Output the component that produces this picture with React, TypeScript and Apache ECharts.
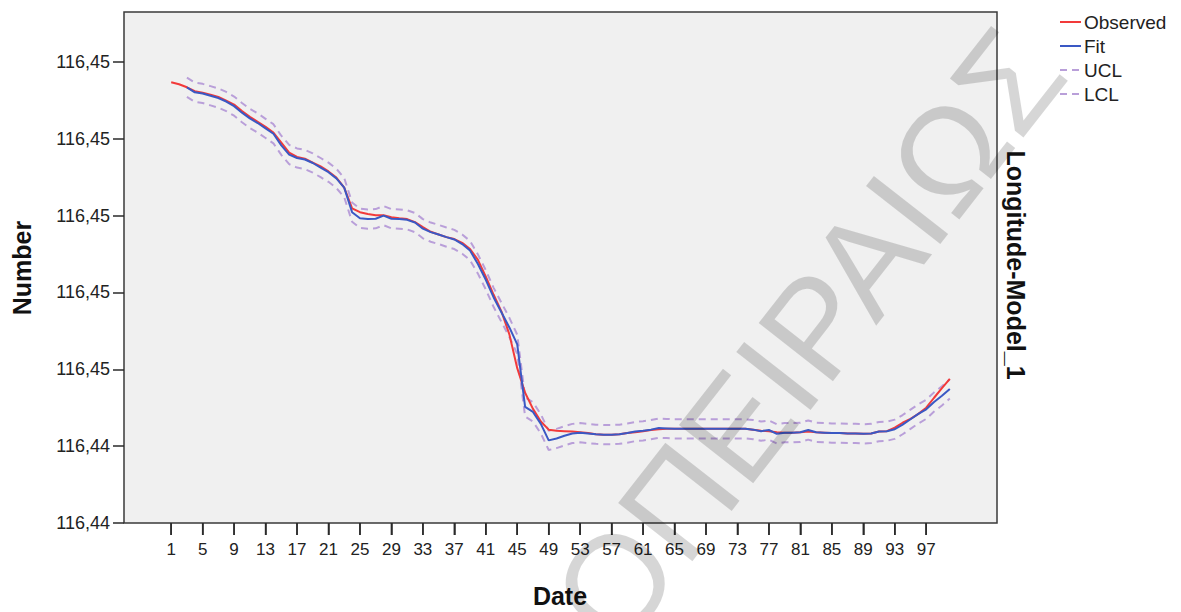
import React, { useEffect, useRef } from "react";
import * as echarts from "echarts";

// Observed longitude, dates 1..100
const OBSERVED = [
  116.45347, 116.45342, 116.45334, 116.45324, 116.4532, 116.45315, 116.45309, 116.45299, 116.45289, 116.45272,
  116.45257, 116.45244, 116.45231, 116.45216, 116.4519, 116.45164, 116.45153, 116.45148, 116.45138, 116.45128,
  116.45115, 116.45099, 116.45073, 116.45019, 116.45009, 116.45004, 116.45001, 116.45001, 116.44996, 116.44993,
  116.44991, 116.44983, 116.4497, 116.44958, 116.44951, 116.44944, 116.44939, 116.44929, 116.44913, 116.44885,
  116.44841, 116.44794, 116.4475, 116.44691, 116.44603, 116.44539, 116.44497, 116.44464, 116.44443, 116.4444,
  116.44439, 116.44438, 116.44436, 116.44434, 116.44431, 116.4443, 116.4443, 116.44431, 116.44434, 116.44436,
  116.44439, 116.44442, 116.44444, 116.44445, 116.44445, 116.44445, 116.44445, 116.44445, 116.44445, 116.44445,
  116.44445, 116.44445, 116.44445, 116.44445, 116.44443, 116.4444, 116.44439, 116.44436, 116.44435, 116.44435,
  116.44436, 116.44438, 116.44436, 116.44435, 116.44434, 116.44434, 116.44433, 116.44433, 116.44432, 116.44433,
  116.44438, 116.44439, 116.44448, 116.44461, 116.44471, 116.44484, 116.445, 116.44526, 116.44551, 116.44575,
];

const FIT = [
  null, null, 116.45334, 116.45321, 116.45318, 116.45312, 116.45306, 116.45297, 116.45285, 116.45268,
  116.45253, 116.45241, 116.45227, 116.45213, 116.45183, 116.45159, 116.4515, 116.45146, 116.45137, 116.45125,
  116.45113, 116.45097, 116.45073, 116.45009, 116.44993, 116.44991, 116.44992, 116.45, 116.44992, 116.44991,
  116.44989, 116.44982, 116.44966, 116.44957, 116.44951, 116.44944, 116.44938, 116.44926, 116.44909, 116.44874,
  116.44833, 116.44787, 116.44748, 116.44709, 116.44665, 116.44502, 116.44489, 116.44458, 116.44415, 116.4442,
  116.44427, 116.44433, 116.44435, 116.44433, 116.44431, 116.4443, 116.4443, 116.44431, 116.44434, 116.44438,
  116.4444, 116.44443, 116.44447, 116.44446, 116.44445, 116.44445, 116.44445, 116.44445, 116.44445, 116.44445,
  116.44445, 116.44445, 116.44445, 116.44445, 116.44443, 116.44439, 116.44442, 116.44432, 116.44435, 116.44435,
  116.44436, 116.44442, 116.44436, 116.44435, 116.44434, 116.44434, 116.44433, 116.44433, 116.44432, 116.44433,
  116.44438, 116.44439, 116.44444, 116.44456, 116.4447, 116.44484, 116.44496, 116.44515, 116.44531, 116.44549,
];

const UCL = [
  null, null, 116.45359, 116.45346, 116.45343, 116.45337, 116.45331, 116.45322, 116.4531, 116.45293,
  116.45278, 116.45266, 116.45252, 116.45238, 116.45208, 116.45184, 116.45175, 116.45171, 116.45162, 116.4515,
  116.45138, 116.45122, 116.45098, 116.45034, 116.45018, 116.45016, 116.45017, 116.45025, 116.45017, 116.45016,
  116.45014, 116.45007, 116.44991, 116.44982, 116.44976, 116.44969, 116.44963, 116.44951, 116.44934, 116.44899,
  116.44858, 116.44812, 116.44773, 116.44734, 116.4469, 116.44527, 116.44514, 116.44483, 116.4444, 116.44445,
  116.44452, 116.44458, 116.4446, 116.44458, 116.44456, 116.44455, 116.44455, 116.44456, 116.44459, 116.44463,
  116.44465, 116.44468, 116.44472, 116.44471, 116.4447, 116.4447, 116.4447, 116.4447, 116.4447, 116.4447,
  116.4447, 116.4447, 116.4447, 116.4447, 116.44468, 116.44464, 116.44467, 116.44457, 116.4446, 116.4446,
  116.44461, 116.44467, 116.44461, 116.4446, 116.44459, 116.44459, 116.44458, 116.44458, 116.44457, 116.44458,
  116.44463, 116.44464, 116.44469, 116.44481, 116.44495, 116.44509, 116.44521, 116.4454, 116.44556, 116.44574,
];

const LCL = [
  null, null, 116.45309, 116.45296, 116.45293, 116.45287, 116.45281, 116.45272, 116.4526, 116.45243,
  116.45228, 116.45216, 116.45202, 116.45188, 116.45158, 116.45134, 116.45125, 116.45121, 116.45112, 116.451,
  116.45088, 116.45072, 116.45048, 116.44984, 116.44968, 116.44966, 116.44967, 116.44975, 116.44967, 116.44966,
  116.44964, 116.44957, 116.44941, 116.44932, 116.44926, 116.44919, 116.44913, 116.44901, 116.44884, 116.44849,
  116.44808, 116.44762, 116.44723, 116.44684, 116.4464, 116.44477, 116.44464, 116.44433, 116.4439, 116.44395,
  116.44402, 116.44408, 116.4441, 116.44408, 116.44406, 116.44405, 116.44405, 116.44406, 116.44409, 116.44413,
  116.44415, 116.44418, 116.44422, 116.44421, 116.4442, 116.4442, 116.4442, 116.4442, 116.4442, 116.4442,
  116.4442, 116.4442, 116.4442, 116.4442, 116.44418, 116.44414, 116.44417, 116.44407, 116.4441, 116.4441,
  116.44411, 116.44417, 116.44411, 116.4441, 116.44409, 116.44409, 116.44408, 116.44408, 116.44407, 116.44408,
  116.44413, 116.44414, 116.44419, 116.44431, 116.44445, 116.44459, 116.44471, 116.4449, 116.44506, 116.44524,
];

const X_TICKS = [1, 5, 9, 13, 17, 21, 25, 29, 33, 37, 41, 45, 49, 53, 57, 61, 65, 69, 73, 77, 81, 85, 89, 93, 97];
const Y_TICKS = [116.442, 116.444, 116.446, 116.448, 116.45, 116.452, 116.454];
const Y_MIN = 116.442;
const Y_MAX = 116.4553;
const X_FIRST_SLOT = -5;
const X_LAST_SLOT = 106;
const SERIES_NAMES = ["Observed", "Fit", "UCL", "LCL"];
const X_TITLE = "Date";
const Y_TITLE = "Number";
const MODEL_TITLE = "Longitude-Model_1";
const WATERMARK = "ΟΠΕΙΡΑΙΩΣ";

const FONT = "'Liberation Sans', Arial, Helvetica, sans-serif";
const RED = "#f23a3a";
const BLUE = "#3a58c4";
const PURPLE = "#b99fd9";
const DASH = [7, 5];
const AXIS_DARK = "#3a3a3a";
const TICK_DARK = "#2a2a2a";
const X_TICK_LEN = 12;

const STYLE_BY_NAME: Record<string, { color: string; dash: number[] | null }> = {
  Observed: { color: RED, dash: null },
  Fit: { color: BLUE, dash: null },
  UCL: { color: PURPLE, dash: DASH },
  LCL: { color: PURPLE, dash: DASH },
};

function toPairs(arr: (number | null)[]) {
  return arr.map((v, i) => [String(i + 1), v]).filter((p) => p[1] !== null);
}

export default function App() {
  const ref = useRef<HTMLDivElement>(null);

  useEffect(() => {
    if (!ref.current) return;
    const chart = echarts.init(ref.current, undefined, { renderer: "svg" });
    const fmt = (v: number) => v.toFixed(2).replace(".", ",");

    // axis slots (category positions) spanning the plotted date range
    const slots: string[] = [];
    for (let d = X_FIRST_SLOT; d <= X_LAST_SLOT; d++) slots.push(String(d));
    const tickSet = new Set(X_TICKS.map(String));
    const showTick = (_i: number, v: string) => tickSet.has(String(v));

    const mkSeries = (name: string, arr: (number | null)[], z: number) => {
      const st = STYLE_BY_NAME[name];
      return {
        name,
        type: "line",
        data: toPairs(arr),
        symbol: "none",
        z,
        itemStyle: { color: st.color },
        lineStyle: { color: st.color, width: 2, type: st.dash || "solid" },
      };
    };

    const legendItems: any[] = [];
    SERIES_NAMES.forEach((name, i) => {
      const st = STYLE_BY_NAME[name];
      const cy = 22 + i * 24;
      legendItems.push({
        type: "line",
        shape: { x1: 1060, y1: cy, x2: 1081, y2: cy },
        style: { stroke: st.color, lineWidth: 2, lineDash: st.dash || undefined },
      });
      legendItems.push({
        type: "text",
        x: 1084,
        y: cy,
        style: {
          text: name,
          fontSize: 19,
          fontFamily: FONT,
          fill: "#222",
          align: "left",
          verticalAlign: "middle",
        },
      });
    });

    chart.setOption({
      animation: false,
      backgroundColor: "#ffffff",
      textStyle: { fontFamily: FONT },
      grid: {
        left: 124,
        top: 12,
        right: 184,
        bottom: 89,
        show: true,
        backgroundColor: "#f0f0f0",
        borderColor: AXIS_DARK,
        borderWidth: 1.5,
      },
      xAxis: {
        type: "category",
        data: slots,
        boundaryGap: false,
        axisLine: { show: false, onZero: false },
        splitLine: { show: false },
        axisTick: {
          show: true,
          length: X_TICK_LEN,
          interval: showTick,
          lineStyle: { color: TICK_DARK, width: 1.5 },
        },
        axisLabel: {
          interval: showTick,
          margin: 18,
          fontSize: 17,
          color: "#222",
          fontFamily: FONT,
        },
      },
      yAxis: {
        type: "value",
        min: Y_MIN,
        max: Y_MAX,
        axisLine: { show: false, onZero: false },
        splitLine: { show: false },
        axisTick: {
          show: true,
          length: 11,
          customValues: Y_TICKS,
          lineStyle: { color: TICK_DARK, width: 1.5 },
        },
        axisLabel: {
          customValues: Y_TICKS,
          formatter: fmt,
          margin: 14,
          fontSize: 18,
          color: "#222",
          fontFamily: FONT,
        },
      },
      series: [
        mkSeries("UCL", UCL, 2),
        mkSeries("LCL", LCL, 2),
        mkSeries("Observed", OBSERVED, 3),
        mkSeries("Fit", FIT, 4),
        {
          // date tick marks below the plot, placed through the axes' scales
          name: "dateTicks",
          type: "custom",
          clip: false,
          silent: true,
          z: 20,
          data: X_TICKS.map((t) => [String(t), Y_MIN]),
          renderItem: (_params: any, api: any) => {
            const p = api.coord([api.value(0), api.value(1)]);
            return {
              type: "line",
              shape: { x1: p[0], y1: p[1], x2: p[0], y2: p[1] + X_TICK_LEN },
              style: { stroke: TICK_DARK, lineWidth: 1.5 },
            };
          },
        },
      ],
      graphic: [
        ...legendItems,
        {
          type: "text",
          x: 22,
          y: 268,
          rotation: Math.PI / 2,
          style: {
            text: Y_TITLE,
            fontSize: 25,
            fontWeight: "bold",
            fontFamily: FONT,
            fill: "#111",
            align: "center",
            verticalAlign: "middle",
          },
        },
        {
          type: "text",
          x: 560,
          y: 596,
          style: {
            text: X_TITLE,
            fontSize: 25,
            fontWeight: "bold",
            fontFamily: FONT,
            fill: "#111",
            align: "center",
            verticalAlign: "middle",
          },
        },
        {
          type: "text",
          x: 1016,
          y: 265,
          rotation: -Math.PI / 2,
          style: {
            text: MODEL_TITLE,
            fontSize: 25,
            fontWeight: "bold",
            fontFamily: FONT,
            fill: "#111",
            align: "center",
            verticalAlign: "middle",
          },
        },
        {
          type: "text",
          x: 808,
          y: 336,
          z: 100,
          rotation: (52 * Math.PI) / 180,
          silent: true,
          style: {
            text: WATERMARK,
            fontSize: 137,
            fontFamily: FONT,
            fill: "rgba(0,0,0,0.16)",
            align: "center",
            verticalAlign: "middle",
          },
        },
      ],
    });
    return () => chart.dispose();
  }, []);

  return (
    <div
      ref={ref}
      style={{ position: "fixed", left: 0, top: 0, width: 1181, height: 612, background: "#fff" }}
    />
  );
}
